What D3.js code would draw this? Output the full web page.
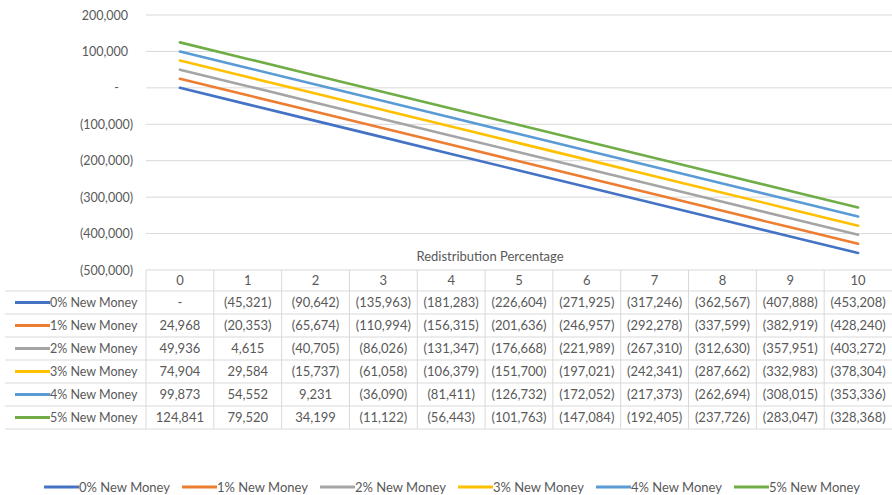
<!DOCTYPE html>
<html>
<head>
<meta charset="utf-8">
<script src="https://cdn.jsdelivr.net/npm/d3@7"></script>
<style>
  html, body { margin: 0; padding: 0; background: #fff; }
  svg { display: block; font-family: Lato, "Open Sans", sans-serif; }
</style>
</head>
<body>
<svg id="chart" width="892" height="495"></svg>
<script>
// Redistribution percentage (x categories)
const categories = ["0", "1", "2", "3", "4", "5", "6", "7", "8", "9", "10"];

// Series names and colours
const seriesNames = ["0% New Money", "1% New Money", "2% New Money", "3% New Money", "4% New Money", "5% New Money"];
const seriesColors = ["#4472C4", "#ED7D31", "#A5A5A5", "#FFC000", "#5B9BD5", "#70AD47"];

// Values per series
const newMoney0 = [0, -45321, -90642, -135963, -181283, -226604, -271925, -317246, -362567, -407888, -453208];
const newMoney1 = [24968, -20353, -65674, -110994, -156315, -201636, -246957, -292278, -337599, -382919, -428240];
const newMoney2 = [49936, 4615, -40705, -86026, -131347, -176668, -221989, -267310, -312630, -357951, -403272];
const newMoney3 = [74904, 29584, -15737, -61058, -106379, -151700, -197021, -242341, -287662, -332983, -378304];
const newMoney4 = [99873, 54552, 9231, -36090, -81411, -126732, -172052, -217373, -262694, -308015, -353336];
const newMoney5 = [124841, 79520, 34199, -11122, -56443, -101763, -147084, -192405, -237726, -283047, -328368];

// Y axis ticks
const yTicks = [200000, 100000, 0, -100000, -200000, -300000, -400000, -500000];

const xTitle = "Redistribution Percentage";

const seriesValues = [newMoney0, newMoney1, newMoney2, newMoney3, newMoney4, newMoney5];
const series = seriesNames.map((name, i) => ({ name, color: seriesColors[i], values: seriesValues[i] }));

const svg = d3.select("#chart");
const textColor = "#595959";
const gridColor = "#d9d9d9";

const x = d3.scaleBand().domain(categories).range([146, 892]);
const y = d3.scaleLinear().domain([-500000, 200000]).range([270, 15]);

// Accounting-style number format: 1,234 / (1,234) / -
const fmtNum = d3.format(",.0f");
const acct = v => v === 0 ? "-" : (v < 0 ? "(" + fmtNum(-v) + ")" : fmtNum(v));

// Gridlines
svg.append("g")
  .selectAll("line")
  .data(yTicks.filter(t => t !== -500000))
  .join("line")
  .attr("x1", 146).attr("x2", 892)
  .attr("y1", d => y(d)).attr("y2", d => y(d))
  .attr("stroke", gridColor).attr("stroke-width", 1);

// Y axis labels
const yAxis = d3.axisLeft(y).tickValues(yTicks).tickSize(0).tickPadding(0)
  .tickFormat(d => acct(d));
const gy = svg.append("g").attr("transform", "translate(133,0)").call(yAxis);
gy.select(".domain").remove();
gy.selectAll("text")
  .attr("fill", textColor)
  .style("font-size", "12.5px")
  .style("font-family", "Lato, 'Open Sans', sans-serif")
  .attr("dx", d => d > 0 ? -5 : (d === 0 ? -14 : 0));

// Series lines
const line = d3.line()
  .x((d, i) => x(categories[i]) + x.bandwidth() / 2)
  .y(d => y(d));
svg.append("g")
  .selectAll("path")
  .data(series)
  .join("path")
  .attr("d", d => line(d.values))
  .attr("fill", "none")
  .attr("stroke", d => d.color)
  .attr("stroke-width", 2.6)
  .attr("stroke-linecap", "round");

// Axis title
svg.append("text")
  .attr("x", 490).attr("y", 261)
  .attr("text-anchor", "middle")
  .attr("fill", textColor)
  .style("font-size", "13px")
  .text(xTitle);

// Data table
const tableTop = y(-500000);
const headerH = 21;
const rowH = 23;
const tableLeft = x.range()[0];
const tableRight = x.range()[1];
const labelLeft = 5;
const tableBottom = tableTop + headerH + rowH * series.length;

const tbl = svg.append("g");
// horizontal rules
tbl.append("line")
  .attr("x1", tableLeft).attr("x2", tableRight)
  .attr("y1", tableTop).attr("y2", tableTop)
  .attr("stroke", gridColor);
tbl.selectAll("line.row")
  .data(d3.range(series.length + 1))
  .join("line")
  .attr("class", "row")
  .attr("x1", labelLeft).attr("x2", tableRight)
  .attr("y1", i => tableTop + headerH + i * rowH)
  .attr("y2", i => tableTop + headerH + i * rowH)
  .attr("stroke", gridColor);
// vertical rules
tbl.selectAll("line.col")
  .data(categories)
  .join("line")
  .attr("class", "col")
  .attr("x1", d => x(d)).attr("x2", d => x(d))
  .attr("y1", tableTop).attr("y2", tableBottom)
  .attr("stroke", gridColor);

// header labels
tbl.selectAll("text.head")
  .data(categories)
  .join("text")
  .attr("class", "head")
  .attr("x", d => x(d) + x.bandwidth() / 2)
  .attr("y", tableTop + headerH / 2 + 4.5)
  .attr("text-anchor", "middle")
  .attr("fill", textColor)
  .style("font-size", "13px")
  .text(d => d);

// rows
const rows = tbl.selectAll("g.srow")
  .data(series)
  .join("g")
  .attr("class", "srow")
  .attr("transform", (d, i) => `translate(0,${tableTop + headerH + i * rowH + rowH / 2})`);
rows.append("line")
  .attr("x1", 15).attr("x2", 50)
  .attr("y1", 0).attr("y2", 0)
  .attr("stroke", d => d.color)
  .attr("stroke-width", 3);
rows.append("text")
  .attr("x", 50).attr("y", 4.5)
  .attr("fill", textColor)
  .style("font-size", "12.5px")
  .text(d => d.name);
rows.selectAll("text.val")
  .data(d => d.values)
  .join("text")
  .attr("class", "val")
  .attr("x", (v, i) => x(categories[i]) + x.bandwidth() / 2)
  .attr("y", 4.5)
  .attr("text-anchor", "middle")
  .attr("fill", textColor)
  .style("font-size", "13px")
  .text(v => acct(v));

// Bottom legend
const legend = svg.append("g");
const items = legend.selectAll("g.item")
  .data(series)
  .join("g")
  .attr("class", "item");
items.append("line")
  .attr("x1", 0).attr("x2", 35)
  .attr("y1", 0).attr("y2", 0)
  .attr("stroke", d => d.color)
  .attr("stroke-width", 3);
items.append("text")
  .attr("x", 35).attr("y", 4.5)
  .attr("fill", textColor)
  .style("font-size", "13px")
  .text(d => d.name);
let cursor = 0;
const gap = 12;
const positions = [];
items.each(function () {
  const w = 35 + d3.select(this).select("text").node().getComputedTextLength();
  positions.push(cursor);
  cursor += w + gap;
});
const total = cursor - gap;
const startX = 452 - total / 2;
items.attr("transform", (d, i) => `translate(${startX + positions[i]},487)`);
</script>
</body>
</html>
